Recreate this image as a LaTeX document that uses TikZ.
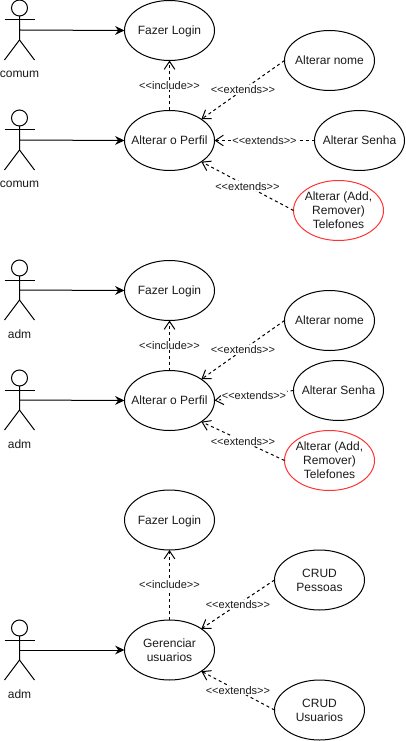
\documentclass[tikz,border=0pt]{standalone}
\usepackage{fontspec}
\setmainfont{Liberation Sans}
\usetikzlibrary{shapes.geometric,arrows.meta}
\definecolor{redline}{HTML}{FF3333}
\definecolor{ink}{HTML}{1A1A1A}
\tikzset{
  x=0.75pt,y=-0.75pt,
  usecase/.style={ellipse,draw=black,line width=0.75pt,minimum width=67.5pt,minimum height=45pt,inner sep=0pt,outer sep=0pt},
  redcase/.style={usecase,draw=redline},
  casetext/.style={align=center,font=\fontsize{9}{10.5}\selectfont,text=ink,inner sep=0pt,text depth=0pt},
  actorlabel/.style={font=\fontsize{9}{10.5}\selectfont,text=ink,inner sep=0pt},
  stick/.style={line width=0.75pt,draw=black},
  assoc/.style={line width=0.75pt,-{Stealth[length=7pt,width=6.5pt]}},
  dep/.style={line width=0.75pt,dash pattern=on 2.25pt off 2.25pt,-{Straight Barb[length=6pt,width=8pt,line width=0.75pt]}},
  deplabel/.style={midway,fill=white,inner sep=0.5pt,font=\fontsize{8.25}{9.5}\selectfont,text=ink}
}
\newcommand{\stickman}[3]{%
  \draw[stick] (19.5,#2+8) circle[radius=6pt];
  \draw[stick] (19.5,#2+16) -- (19.5,#2+40) -- (4.5,#2+60);
  \draw[stick] (19.5,#2+40) -- (34.5,#2+60);
  \draw[stick] (4.5,#2+20) -- (34.5,#2+20);
  \coordinate (#1) at (19.5,#2+30);
  \node[actorlabel,anchor=base] (#1l) at (19.5,#2+78) {#3};
}
\newcommand{\case}[5][usecase]{%
  \node[#1,label={[casetext]center:#5}] (#2) at (#3,#4) {};
}
\begin{document}
\begin{tikzpicture}
\useasboundingbox (0,0) rectangle (405,741);
% group 1
\stickman{a1}{0}{comum}
\stickman{a2}{110}{comum}
\case{login1}{169.5}{30.5}{Fazer Login}
\case{perfil1}{169.5}{140.5}{Alterar o Perfil}
\case{nome1}{329.5}{60.5}{Alterar nome}
\case{senha1}{359.5}{140.5}{Alterar Senha}
\case[redcase]{tel1}{338.5}{210.5}{Alterar (Add,\\Remover)\\Telefones}
\draw[assoc] (a1) -- (login1.west);
\draw[assoc] (a2) -- (perfil1.west);
\draw[dep] (perfil1.north) -- node[deplabel] {<{}<include>{}>} (login1.south);
\draw[dep] (nome1.west) -- node[deplabel] {<{}<extends>{}>} (perfil1.north east);
\draw[dep] (senha1.west) -- node[deplabel] {<{}<extends>{}>} (perfil1.east);
\draw[dep] (tel1.west) -- node[deplabel] {<{}<extends>{}>} (perfil1.south east);
% group 2
\stickman{a3}{260}{adm}
\stickman{a4}{370}{adm}
\case{login2}{169.5}{290.5}{Fazer Login}
\case{perfil2}{169.5}{400.5}{Alterar o Perfil}
\case{nome2}{329.5}{320.5}{Alterar nome}
\case{senha2}{338.5}{390.5}{Alterar Senha}
\case[redcase]{tel2}{329.5}{460.5}{Alterar (Add,\\Remover)\\Telefones}
\draw[assoc] (a3) -- (login2.west);
\draw[assoc] (a4) -- (perfil2.west);
\draw[dep] (perfil2.north) -- node[deplabel] {<{}<include>{}>} (login2.south);
\draw[dep] (nome2.west) -- node[deplabel] {<{}<extends>{}>} (perfil2.north east);
\draw[dep] (senha2.west) -- node[deplabel] {<{}<extends>{}>} (perfil2.east);
\draw[dep] (tel2.west) -- node[deplabel] {<{}<extends>{}>} (perfil2.south east);
% group 3
\stickman{a5}{620}{adm}
\case{login3}{169.5}{520}{Fazer Login}
\case{ger}{169.5}{650}{Gerenciar\\usuarios}
\case{pessoas}{319.5}{580}{CRUD\\Pessoas}
\case{usuarios}{319.5}{710}{CRUD\\Usuarios}
\draw[assoc] (a5) -- (ger.west);
\draw[dep] (ger.north) -- node[deplabel] {<{}<include>{}>} (login3.south);
\draw[dep] (pessoas.west) -- node[deplabel] {<{}<extends>{}>} (ger.north east);
\draw[dep] (usuarios.west) -- node[deplabel] {<{}<extends>{}>} (ger.south east);
\end{tikzpicture}
\end{document}
